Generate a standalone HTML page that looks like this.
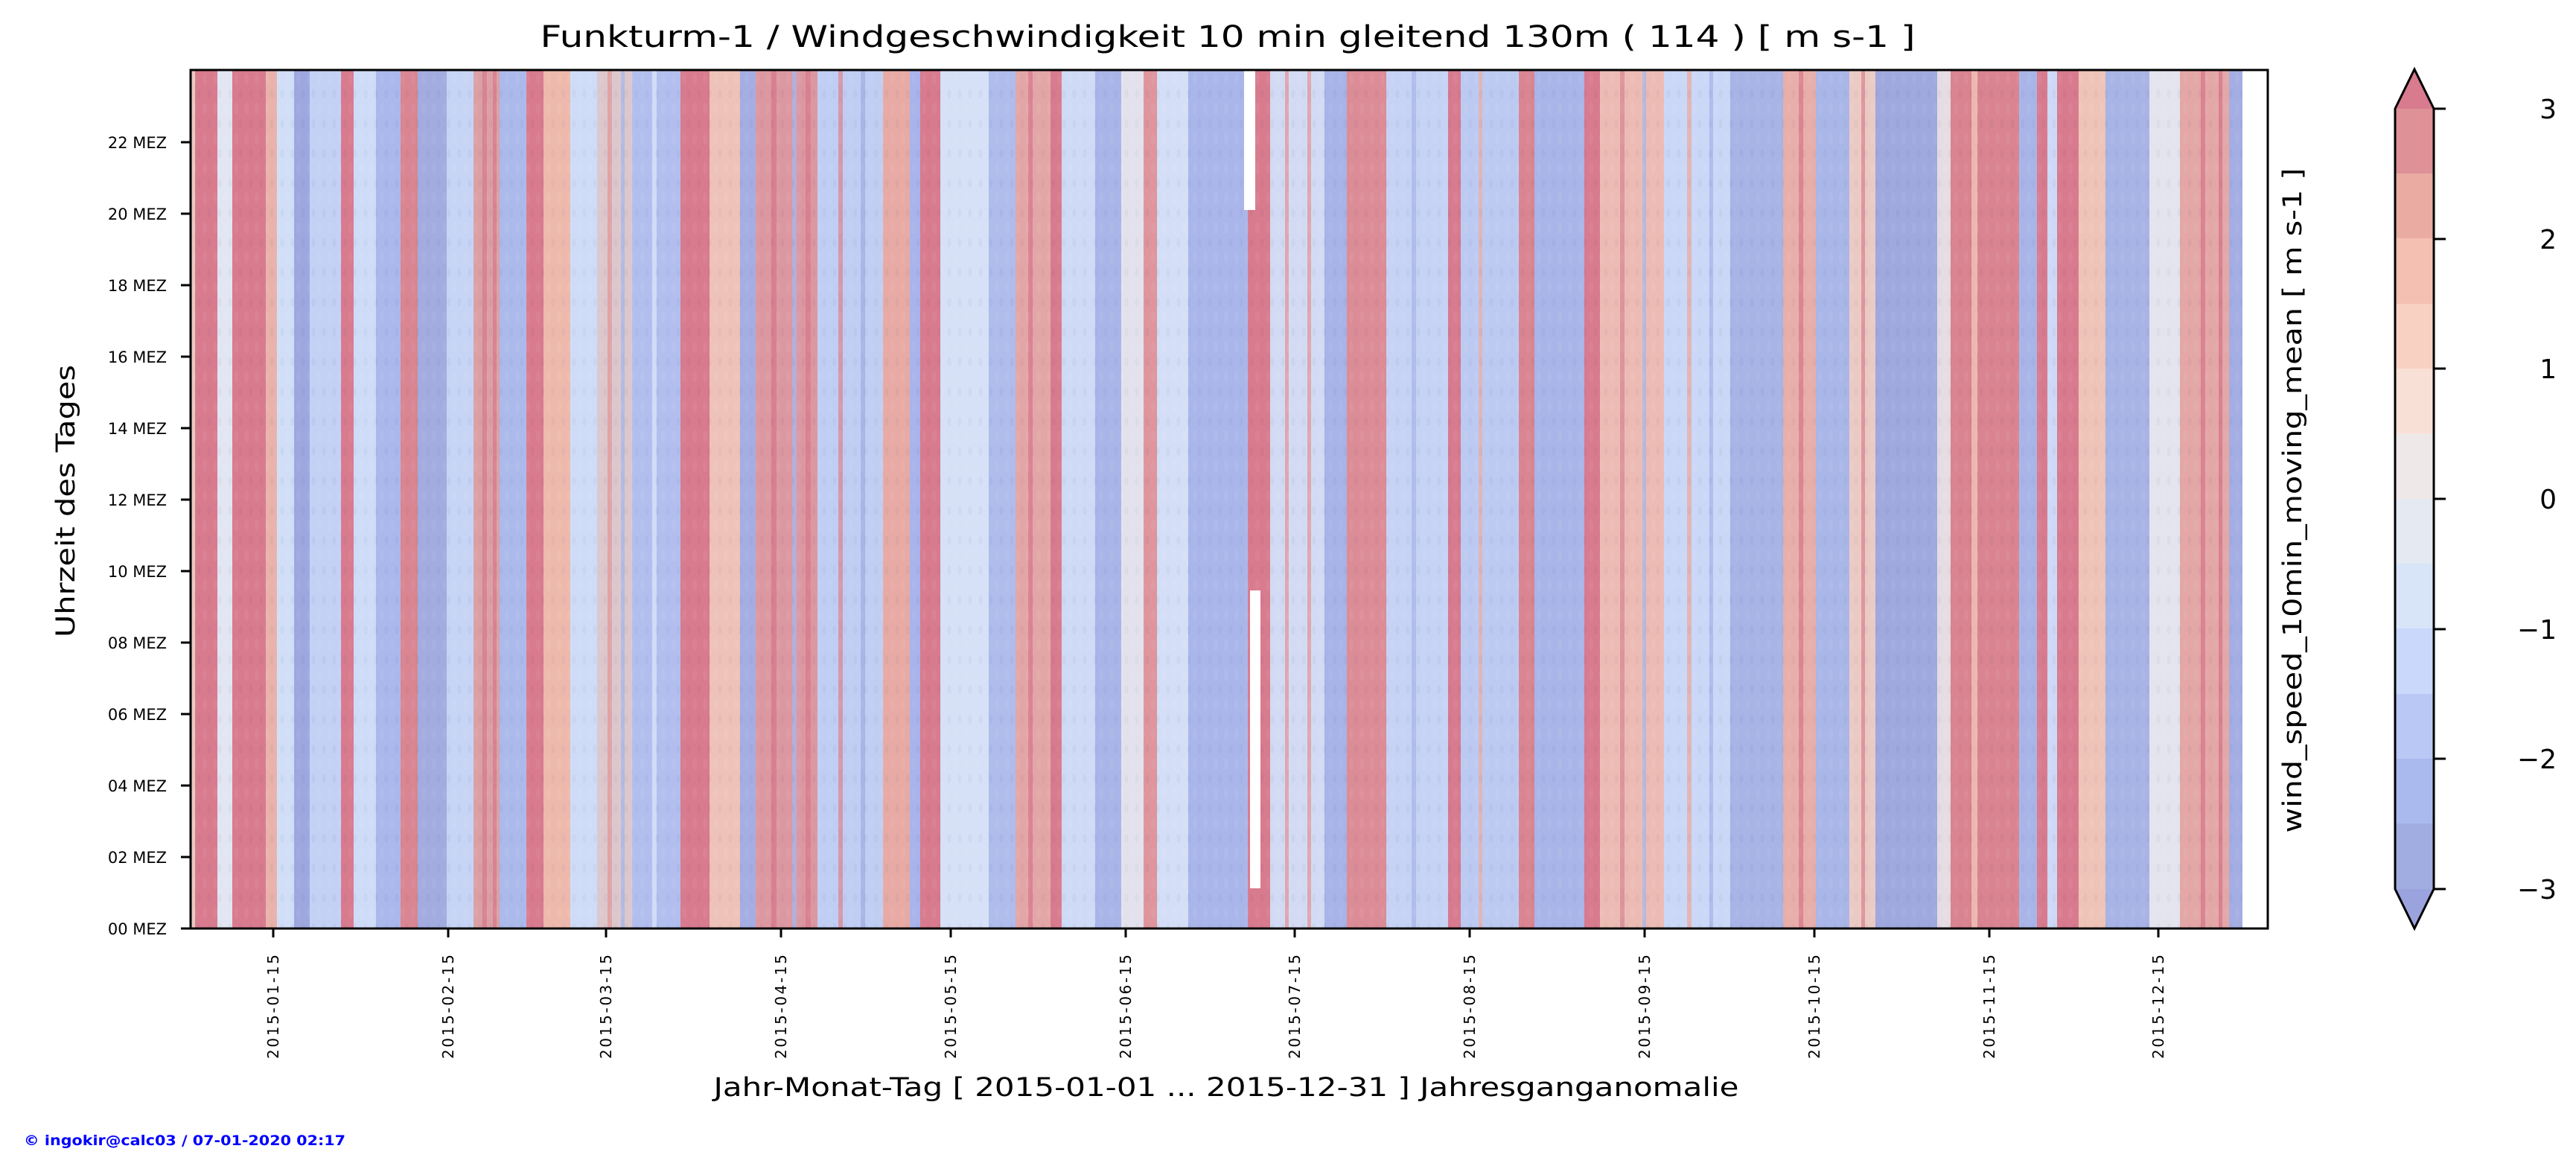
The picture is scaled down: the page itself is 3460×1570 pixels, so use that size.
<!DOCTYPE html>
<html><head><meta charset="utf-8"><style>html,body{margin:0;padding:0;background:#fff}svg{display:block}</style></head>
<body>
<svg width="3460" height="1570" viewBox="0 0 3460 1570" xmlns="http://www.w3.org/2000/svg" font-family="DejaVu Sans, Liberation Sans, sans-serif">
<rect width="3460" height="1570" fill="#fff"/>
<defs>
<pattern id="spk" width="14" height="40" patternUnits="userSpaceOnUse">
<ellipse cx="5" cy="12" rx="3" ry="8" fill="#ffffff" opacity="0.05"/>
<ellipse cx="11" cy="32" rx="2.5" ry="6" fill="#000040" opacity="0.03"/>
</pattern>
</defs>
<g transform="translate(256,94)">
<rect x="0" y="0" width="2756" height="1153" fill="#e6e8f0"/>
<g shape-rendering="crispEdges">
<rect x="0" width="6" height="1153" fill="#e9c8c0"/>
<rect x="6" width="30" height="1153" fill="#d87b8e"/>
<rect x="36" width="20" height="1153" fill="#e2e6f3"/>
<rect x="56" width="45" height="1153" fill="#d87b8e"/>
<rect x="101" width="15" height="1153" fill="#e9b2aa"/>
<rect x="116" width="23" height="1153" fill="#d2def8"/>
<rect x="139" width="21" height="1153" fill="#9ea8df"/>
<rect x="160" width="42" height="1153" fill="#c3d1f5"/>
<rect x="202" width="17" height="1153" fill="#d87b8e"/>
<rect x="219" width="30" height="1153" fill="#cfdcf8"/>
<rect x="249" width="33" height="1153" fill="#aab8ec"/>
<rect x="282" width="23" height="1153" fill="#d98592"/>
<rect x="305" width="39" height="1153" fill="#a2acdf"/>
<rect x="344" width="36" height="1153" fill="#c6d4f6"/>
<rect x="380" width="35" height="1153" fill="#dba0a4"/>
<rect x="415" width="36" height="1153" fill="#acbaeb"/>
<rect x="451" width="23" height="1153" fill="#d87b8e"/>
<rect x="474" width="36" height="1153" fill="#eeb9ad"/>
<rect x="510" width="36" height="1153" fill="#cfdcf7"/>
<rect x="546" width="47" height="1153" fill="#dcc8cc"/>
<rect x="593" width="65" height="1153" fill="#b2bfee"/>
<rect x="658" width="39" height="1153" fill="#d87b8e"/>
<rect x="697" width="41" height="1153" fill="#eec2b8"/>
<rect x="738" width="21" height="1153" fill="#a4aee2"/>
<rect x="759" width="83" height="1153" fill="#dc98a0"/>
<rect x="842" width="88" height="1153" fill="#c0cef4"/>
<rect x="930" width="36" height="1153" fill="#e8aaa4"/>
<rect x="966" width="14" height="1153" fill="#a8b4ea"/>
<rect x="980" width="27" height="1153" fill="#d87b8e"/>
<rect x="1007" width="65" height="1153" fill="#d6e0f6"/>
<rect x="1072" width="36" height="1153" fill="#afbcec"/>
<rect x="1108" width="47" height="1153" fill="#e3a6a6"/>
<rect x="1155" width="15" height="1153" fill="#d87b8e"/>
<rect x="1170" width="45" height="1153" fill="#cfdaf6"/>
<rect x="1215" width="35" height="1153" fill="#a9b5e8"/>
<rect x="1250" width="30" height="1153" fill="#e3e2ec"/>
<rect x="1280" width="18" height="1153" fill="#de959c"/>
<rect x="1298" width="42" height="1153" fill="#d4def6"/>
<rect x="1340" width="80" height="1153" fill="#aab6ea"/>
<rect x="1420" width="30" height="1153" fill="#d87b8e"/>
<rect x="1450" width="73" height="1153" fill="#d2dbf3"/>
<rect x="1523" width="30" height="1153" fill="#a8b3e8"/>
<rect x="1553" width="53" height="1153" fill="#db8c97"/>
<rect x="1606" width="83" height="1153" fill="#c6d3f5"/>
<rect x="1689" width="17" height="1153" fill="#d87b8e"/>
<rect x="1706" width="78" height="1153" fill="#bccaf2"/>
<rect x="1784" width="21" height="1153" fill="#d98592"/>
<rect x="1805" width="67" height="1153" fill="#a9b5e8"/>
<rect x="1872" width="21" height="1153" fill="#d87b8e"/>
<rect x="1893" width="86" height="1153" fill="#ecbcb4"/>
<rect x="1979" width="89" height="1153" fill="#cad7f6"/>
<rect x="2068" width="71" height="1153" fill="#a8b3e6"/>
<rect x="2139" width="44" height="1153" fill="#e8aeaa"/>
<rect x="2183" width="45" height="1153" fill="#aab6e8"/>
<rect x="2228" width="35" height="1153" fill="#ebcac4"/>
<rect x="2263" width="83" height="1153" fill="#9fa9de"/>
<rect x="2346" width="18" height="1153" fill="#e6dde2"/>
<rect x="2364" width="92" height="1153" fill="#d98490"/>
<rect x="2456" width="24" height="1153" fill="#a9b5e8"/>
<rect x="2480" width="14" height="1153" fill="#d87b8e"/>
<rect x="2494" width="13" height="1153" fill="#cdd9f6"/>
<rect x="2507" width="29" height="1153" fill="#d87b8e"/>
<rect x="2536" width="36" height="1153" fill="#efc4b8"/>
<rect x="2572" width="59" height="1153" fill="#a9b4e6"/>
<rect x="2631" width="41" height="1153" fill="#e4e4ee"/>
<rect x="2672" width="66" height="1153" fill="#e3a7a6"/>
<rect x="2738" width="18" height="1153" fill="#a4aee2"/>
</g>
<g opacity="0.8">
<rect x="392" width="6" height="1153" fill="#d87b8e"/>
<rect x="406" width="5" height="1153" fill="#d87b8e"/>
<rect x="560" width="6" height="1153" fill="#e29a9e"/>
<rect x="578" width="5" height="1153" fill="#aab6e8"/>
<rect x="620" width="6" height="1153" fill="#d8e2f8"/>
<rect x="780" width="7" height="1153" fill="#d87b8e"/>
<rect x="808" width="6" height="1153" fill="#aab6e8"/>
<rect x="826" width="7" height="1153" fill="#d87b8e"/>
<rect x="870" width="6" height="1153" fill="#d98a96"/>
<rect x="900" width="6" height="1153" fill="#a4aee2"/>
<rect x="1125" width="6" height="1153" fill="#d87b8e"/>
<rect x="1470" width="5" height="1153" fill="#e29a9e"/>
<rect x="1500" width="5" height="1153" fill="#e29a9e"/>
<rect x="1640" width="6" height="1153" fill="#aab6e8"/>
<rect x="1730" width="5" height="1153" fill="#e8b0aa"/>
<rect x="1920" width="6" height="1153" fill="#d98a96"/>
<rect x="1950" width="5" height="1153" fill="#aab6e8"/>
<rect x="2010" width="6" height="1153" fill="#e8b0aa"/>
<rect x="2040" width="5" height="1153" fill="#aab6e8"/>
<rect x="2160" width="6" height="1153" fill="#d87b8e"/>
<rect x="2244" width="5" height="1153" fill="#d98a96"/>
<rect x="2392" width="8" height="1153" fill="#efc4b8"/>
<rect x="2700" width="6" height="1153" fill="#d87b8e"/>
<rect x="2724" width="5" height="1153" fill="#d87b8e"/>
</g>
<rect x="0" y="0" width="2756" height="1153" fill="url(#spk)"/>
<rect x="1415" y="0" width="15" height="188" fill="#fff"/>
<rect x="1423" y="699" width="14" height="400" fill="#fff"/>
</g>
<rect x="256" y="94" width="2790" height="1153" fill="none" stroke="#000" stroke-width="3"/>
<text x="1649" y="63" font-size="40" text-anchor="middle" textLength="1847" lengthAdjust="spacingAndGlyphs">Funkturm-1 / Windgeschwindigkeit 10 min gleitend 130m ( 114 ) [ m s-1 ]</text>
<g stroke="#000" stroke-width="3">
<line x1="243" y1="1247" x2="255" y2="1247"/><line x1="243" y1="1151" x2="255" y2="1151"/><line x1="243" y1="1055" x2="255" y2="1055"/><line x1="243" y1="959" x2="255" y2="959"/><line x1="243" y1="863" x2="255" y2="863"/><line x1="243" y1="767" x2="255" y2="767"/><line x1="243" y1="671" x2="255" y2="671"/><line x1="243" y1="575" x2="255" y2="575"/><line x1="243" y1="479" x2="255" y2="479"/><line x1="243" y1="383" x2="255" y2="383"/><line x1="243" y1="287" x2="255" y2="287"/><line x1="243" y1="191" x2="255" y2="191"/>
</g>
<g font-size="21" text-anchor="end">
<text x="224" y="1255">00 MEZ</text><text x="224" y="1159">02 MEZ</text><text x="224" y="1063">04 MEZ</text><text x="224" y="967">06 MEZ</text><text x="224" y="871">08 MEZ</text><text x="224" y="775">10 MEZ</text><text x="224" y="679">12 MEZ</text><text x="224" y="583">14 MEZ</text><text x="224" y="487">16 MEZ</text><text x="224" y="391">18 MEZ</text><text x="224" y="295">20 MEZ</text><text x="224" y="199">22 MEZ</text>
</g>
<g stroke="#000" stroke-width="3">
<line x1="367" y1="1247" x2="367" y2="1259"/><line x1="602" y1="1247" x2="602" y2="1259"/><line x1="814" y1="1247" x2="814" y2="1259"/><line x1="1049" y1="1247" x2="1049" y2="1259"/><line x1="1277" y1="1247" x2="1277" y2="1259"/><line x1="1512" y1="1247" x2="1512" y2="1259"/><line x1="1739" y1="1247" x2="1739" y2="1259"/><line x1="1974" y1="1247" x2="1974" y2="1259"/><line x1="2209" y1="1247" x2="2209" y2="1259"/><line x1="2437" y1="1247" x2="2437" y2="1259"/><line x1="2672" y1="1247" x2="2672" y2="1259"/><line x1="2899" y1="1247" x2="2899" y2="1259"/>
</g>
<g font-size="20" text-anchor="end">
<text transform="translate(374,1282) rotate(-90)" textLength="140">2015-01-15</text>
<text transform="translate(609,1282) rotate(-90)" textLength="140">2015-02-15</text>
<text transform="translate(821,1282) rotate(-90)" textLength="140">2015-03-15</text>
<text transform="translate(1056,1282) rotate(-90)" textLength="140">2015-04-15</text>
<text transform="translate(1284,1282) rotate(-90)" textLength="140">2015-05-15</text>
<text transform="translate(1519,1282) rotate(-90)" textLength="140">2015-06-15</text>
<text transform="translate(1746,1282) rotate(-90)" textLength="140">2015-07-15</text>
<text transform="translate(1981,1282) rotate(-90)" textLength="140">2015-08-15</text>
<text transform="translate(2216,1282) rotate(-90)" textLength="140">2015-09-15</text>
<text transform="translate(2444,1282) rotate(-90)" textLength="140">2015-10-15</text>
<text transform="translate(2679,1282) rotate(-90)" textLength="140">2015-11-15</text>
<text transform="translate(2906,1282) rotate(-90)" textLength="140">2015-12-15</text>
</g>
<text x="1647" y="1472" font-size="35" text-anchor="middle" textLength="1377" lengthAdjust="spacingAndGlyphs">Jahr-Monat-Tag [ 2015-01-01 ... 2015-12-31 ] Jahresganganomalie</text>
<text transform="translate(100,673) rotate(-90)" font-size="35" text-anchor="middle" textLength="366" lengthAdjust="spacingAndGlyphs">Uhrzeit des Tages</text>
<text transform="translate(3091,672) rotate(-90)" font-size="35" text-anchor="middle" textLength="893" lengthAdjust="spacingAndGlyphs">wind_speed_10min_moving_mean [ m s-1 ]</text>
<text x="32" y="1538" font-size="19" font-weight="bold" fill="#0000ff" textLength="432" lengthAdjust="spacingAndGlyphs">© ingokir@calc03 / 07-01-2020 02:17</text>
<g shape-rendering="crispEdges">
<rect x="3217" y="146" width="52" height="88" fill="#de9196"/>
<rect x="3217" y="233" width="52" height="88" fill="#eaaba2"/>
<rect x="3217" y="320" width="52" height="88" fill="#f4c0b1"/>
<rect x="3217" y="408" width="52" height="88" fill="#f8d1c3"/>
<rect x="3217" y="495" width="52" height="88" fill="#f9e0d6"/>
<rect x="3217" y="582" width="52" height="88" fill="#efe8e8"/>
<rect x="3217" y="670" width="52" height="88" fill="#e4e9f2"/>
<rect x="3217" y="757" width="52" height="88" fill="#d8e4f8"/>
<rect x="3217" y="844" width="52" height="88" fill="#c9d8fb"/>
<rect x="3217" y="932" width="52" height="88" fill="#b9c8f5"/>
<rect x="3217" y="1019" width="52" height="88" fill="#aabaef"/>
<rect x="3217" y="1106" width="52" height="88" fill="#a1ace1"/>
</g>
<polygon points="3217,146 3243,93 3269,146" fill="#d87b8e"/>
<polygon points="3217,1194 3243,1247 3269,1194" fill="#9ba3de"/>
<polygon points="3217,146 3243,93 3269,146 3269,1194 3243,1247 3217,1194" fill="none" stroke="#000" stroke-width="3"/>
<g stroke="#000" stroke-width="3">
<line x1="3269" y1="146" x2="3285" y2="146"/><line x1="3269" y1="321" x2="3285" y2="321"/><line x1="3269" y1="495" x2="3285" y2="495"/><line x1="3269" y1="670" x2="3285" y2="670"/><line x1="3269" y1="845" x2="3285" y2="845"/><line x1="3269" y1="1019" x2="3285" y2="1019"/><line x1="3269" y1="1194" x2="3285" y2="1194"/>
</g>
<g font-size="36" text-anchor="end">
<text x="3434" y="159">3</text><text x="3434" y="334">2</text><text x="3434" y="508">1</text><text x="3434" y="683">0</text><text x="3434" y="858">−1</text><text x="3434" y="1032">−2</text><text x="3434" y="1207">−3</text>
</g>
</svg>
</body></html>
